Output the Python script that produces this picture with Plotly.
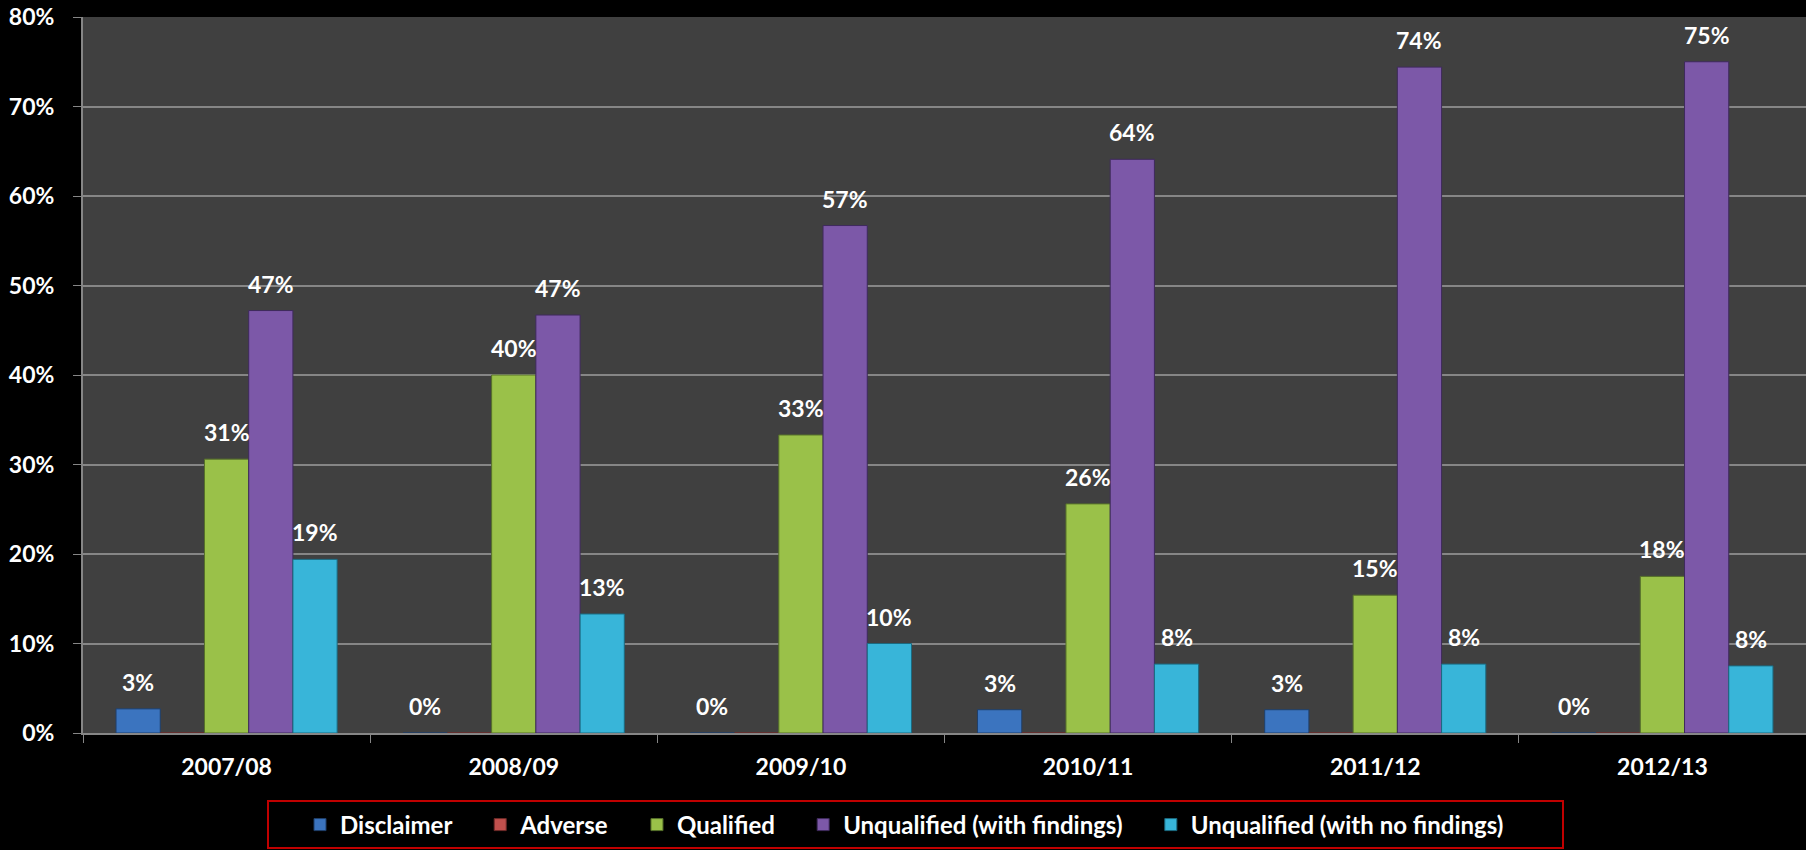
import plotly.graph_objects as go

categories = ["2007/08", "2008/09", "2009/10", "2010/11", "2011/12", "2012/13"]
series_names = ["Disclaimer", "Adverse", "Qualified",
                "Unqualified (with findings)", "Unqualified (with no findings)"]
disclaimer = [2.7, 0.0, 0.0, 2.6, 2.6, 0.0]
adverse = [0.0, 0.0, 0.0, 0.0, 0.0, 0.0]
qualified = [30.6, 40.0, 33.3, 25.6, 15.4, 17.5]
unq_findings = [47.2, 46.7, 56.7, 64.1, 74.4, 75.0]
unq_no_findings = [19.4, 13.3, 10.0, 7.7, 7.7, 7.5]
y_ticks = [0, 10, 20, 30, 40, 50, 60, 70, 80]
y_tick_labels = ["0%", "10%", "20%", "30%", "40%", "50%", "60%", "70%", "80%"]

series_values = [disclaimer, adverse, qualified, unq_findings, unq_no_findings]
colors = ["#3b74bf", "#c0504d", "#9ac149", "#7c58a8", "#38b5d9"]
edge_colors = ["#1f3f6a", "#6e2a28", "#56702a", "#3e2a5c", "#1b6a80"]
show_labels = [True, False, True, True, True]

W, H = 1806, 850
ML, MR, MT, MB = 83, 0, 17, 117
FONT = "Lato, 'Open Sans', sans-serif"
PAD = "\u00a0" * 4

fig = go.Figure()
for name, vals, c, ec in zip(series_names, series_values, colors, edge_colors):
    fig.add_trace(go.Bar(
        name=name + PAD, x=categories, y=vals,
        marker=dict(color=c, line=dict(color=ec, width=1)),
        hoverinfo="skip",
    ))

plot_w = W - ML - MR
plot_h = H - MT - MB
cat_w = plot_w / len(categories)
bargap = 0.23
bar_w = cat_w * (1 - bargap) / len(series_names)

annotations = []
n = len(series_names)
for i, (vals, show) in enumerate(zip(series_values, show_labels)):
    if not show:
        continue
    for cat, v in zip(categories, vals):
        annotations.append(dict(
            x=cat, y=v, xref="x", yref="y",
            text=f"{v:.0f}%", showarrow=False,
            xshift=(i - (n - 1) / 2) * bar_w, yshift=27,
            yanchor="middle", xanchor="center",
            font=dict(family=FONT, size=23, color="white", weight="bold"),
        ))

def px_x(p):
    return (p - ML) / plot_w

def px_y(p):
    return (H - MB - p) / plot_h

fig.update_layout(
    width=W, height=H,
    margin=dict(l=ML, r=MR, t=MT, b=MB, pad=0),
    paper_bgcolor="black", plot_bgcolor="#404040",
    barmode="group", bargap=bargap, bargroupgap=0,
    annotations=annotations,
    shapes=[dict(
        type="rect", xref="paper", yref="paper",
        x0=px_x(268), x1=px_x(1563), y0=px_y(801), y1=px_y(848),
        line=dict(color="#c00000", width=2), fillcolor="rgba(0,0,0,0)",
    )],
    showlegend=True,
    legend=dict(
        orientation="h", x=px_x(300), xanchor="left",
        y=px_y(825), yanchor="middle",
        bgcolor="rgba(0,0,0,0)", borderwidth=0,
        font=dict(family=FONT, size=24, color="white", weight="bold"),
        traceorder="normal",
    ),
    xaxis=dict(
        type="category", tickson="boundaries", ticks="outside", ticklen=8,
        tickcolor="#868686", showline=True, linecolor="#868686", linewidth=2,
        showgrid=False,
        tickfont=dict(family=FONT, size=23, color="white", weight="bold"),
        ticklabelstandoff=12,
    ),
    yaxis=dict(
        range=[0, 80], tickmode="array", tickvals=y_ticks, ticktext=y_tick_labels,
        ticks="outside", ticklen=8, tickcolor="#868686",
        showline=True, linecolor="#868686", linewidth=2,
        showgrid=True, gridcolor="#868686", gridwidth=2, zeroline=False,
        tickfont=dict(family=FONT, size=23, color="white", weight="bold"),
        ticklabelstandoff=14,
    ),
)

fig.write_html("out.html")
